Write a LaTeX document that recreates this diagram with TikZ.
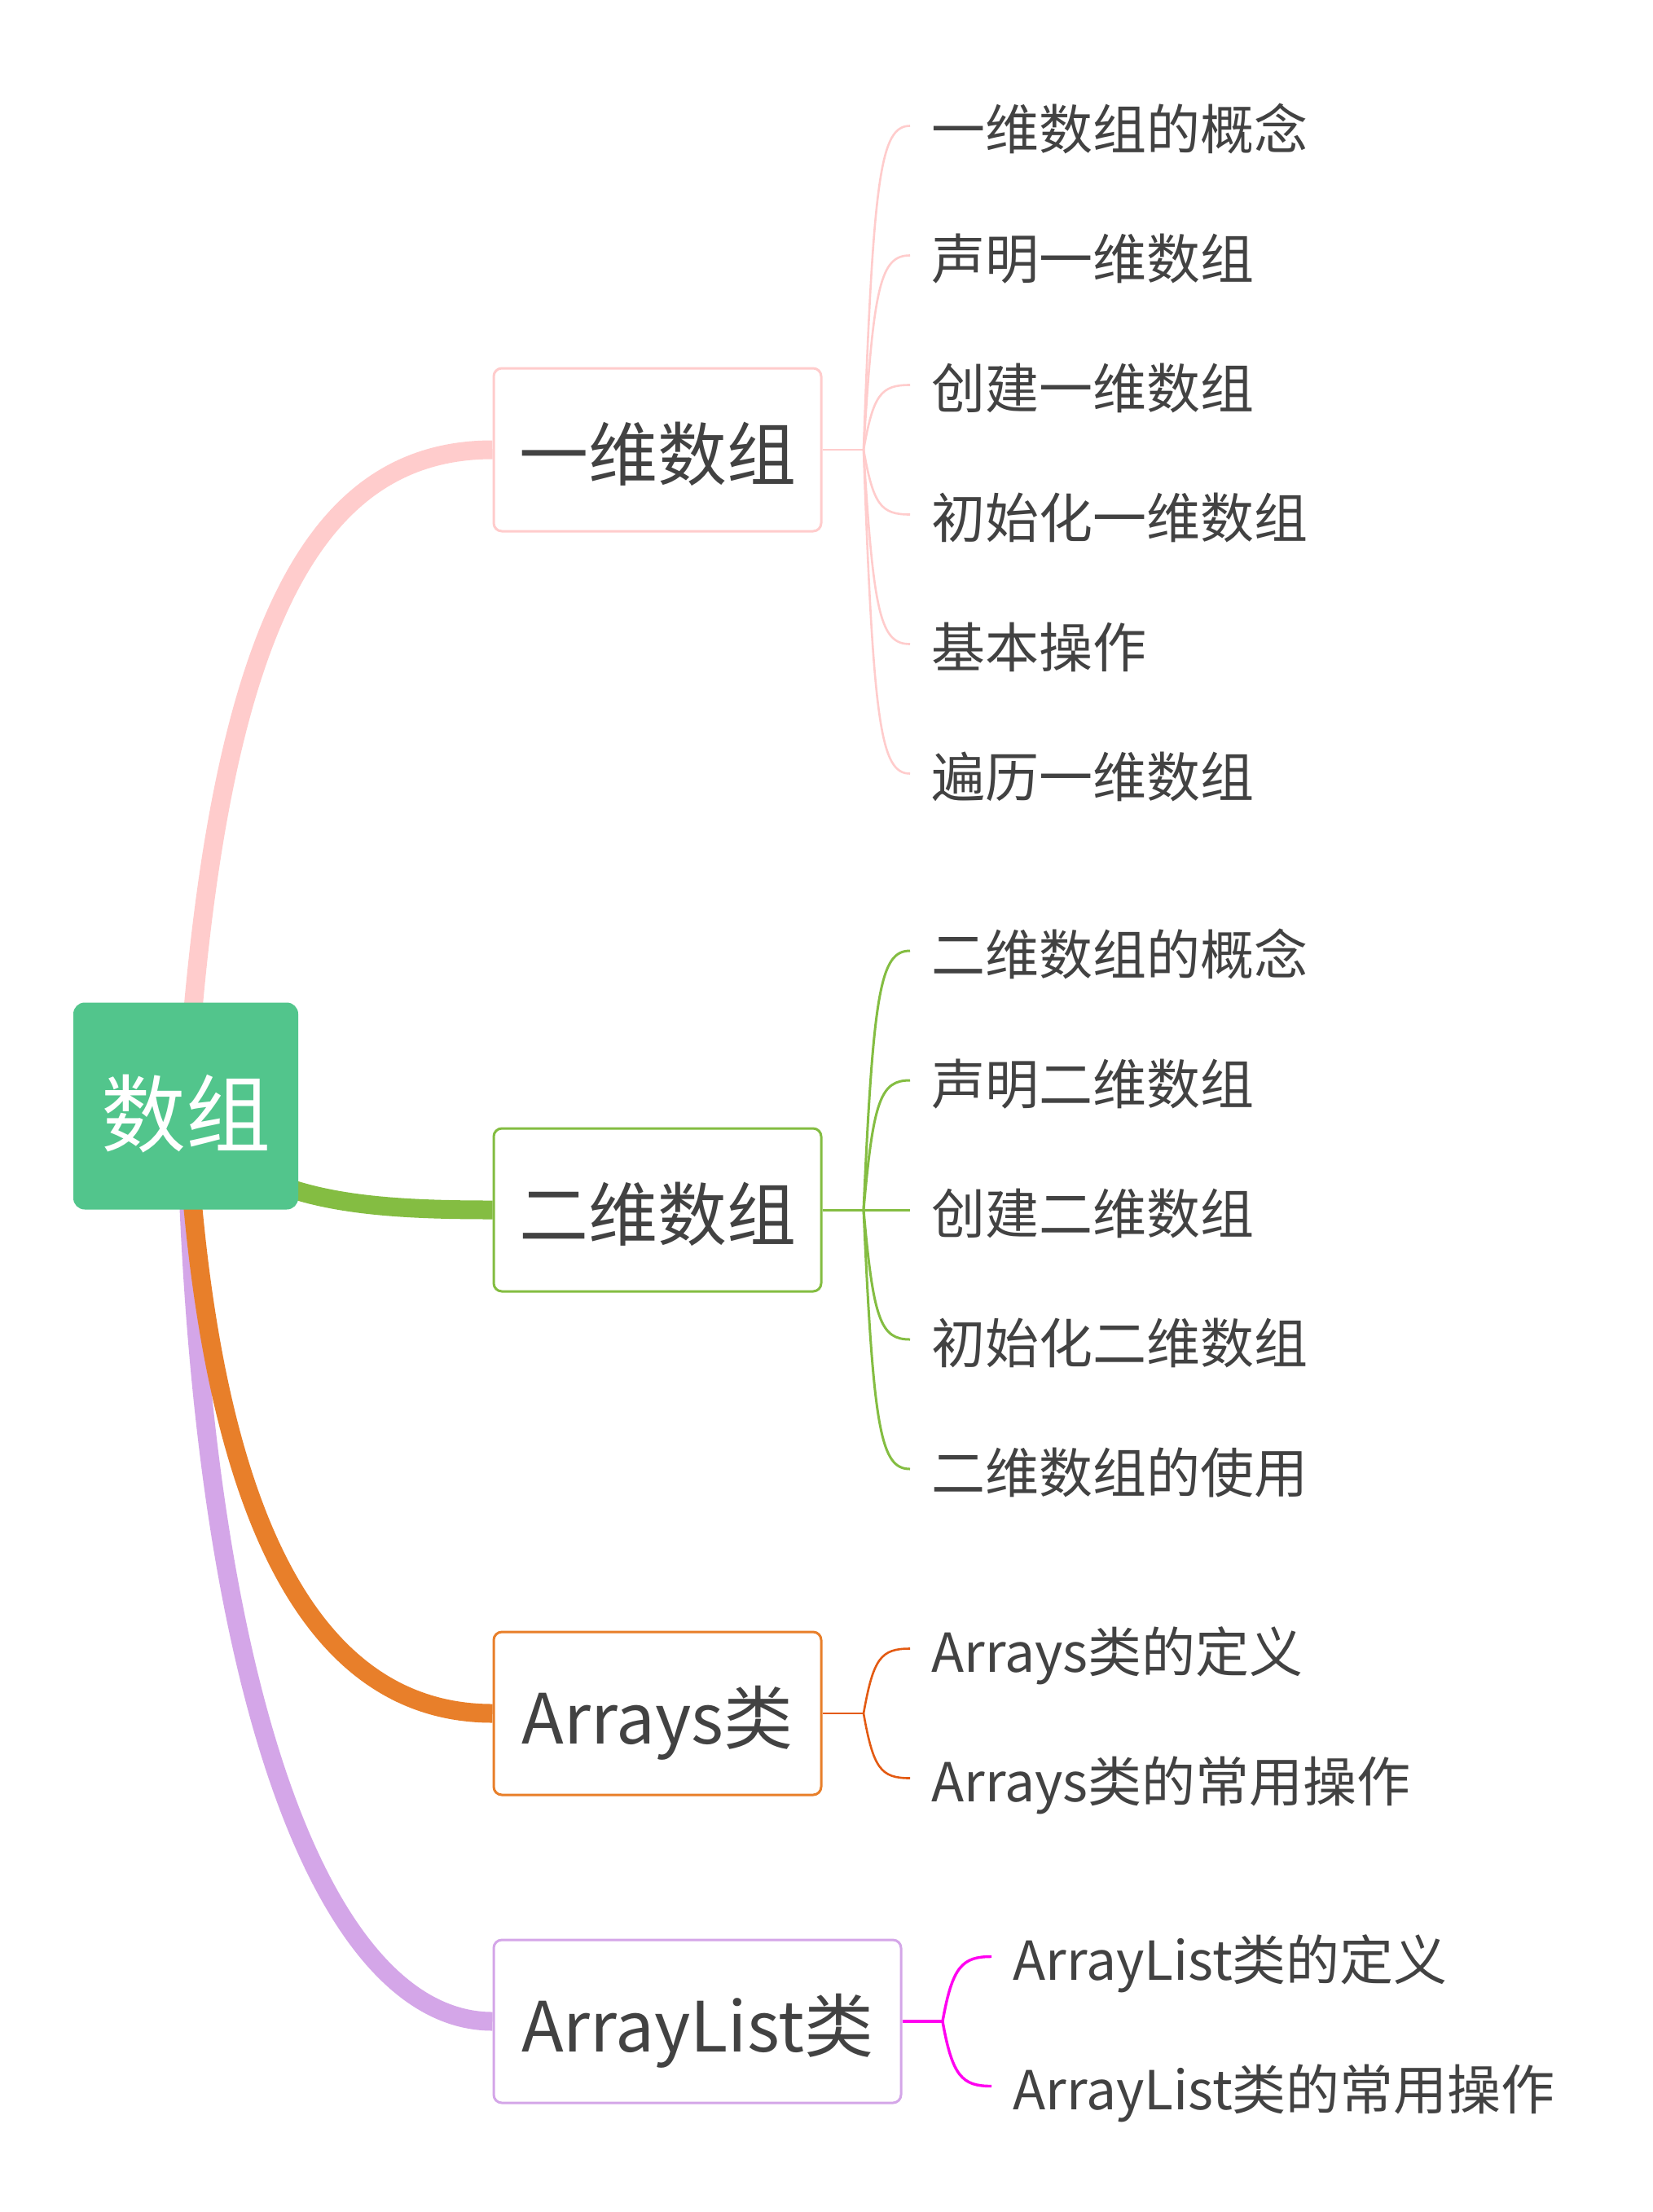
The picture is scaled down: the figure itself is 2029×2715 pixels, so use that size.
\documentclass[tikz,border=0pt]{standalone}
\usepackage{fontspec}
\setmainfont{Noto Sans CJK SC}
\usetikzlibrary{backgrounds}
\definecolor{rootgreen}{HTML}{52C58C}
\definecolor{pinkc}{HTML}{FFCCCC}
\definecolor{greenc}{HTML}{84BD42}
\definecolor{orangec}{HTML}{E87F2A}
\definecolor{orangeleaf}{HTML}{E35A12}
\definecolor{purplec}{HTML}{D4A6E8}
\definecolor{magentac}{HTML}{FF00F0}
\definecolor{textgrey}{HTML}{424242}
\begin{document}
\begin{tikzpicture}[x=0.5pt,y=-0.5pt,
  rootbox/.style={rectangle, rounded corners=7pt, fill=rootgreen, text=white,
    font=\fontsize{52}{52}\selectfont, text height=53pt, text depth=3.6pt,
    minimum width=138pt, minimum height=127pt, inner sep=0pt},
  branchbox/.style={rectangle, rounded corners=5pt, draw, line width=1.5pt, fill=white, text=textgrey,
    font=\fontsize{42.5}{42.5}\selectfont, text height=40.4pt, text depth=3pt,
    minimum height=100pt, inner sep=0pt},
  leaf/.style={anchor=west, inner xsep=13pt, inner ysep=0pt, text=textgrey,
    font=\fontsize{33}{33}\selectfont, text height=31.4pt, text depth=2.3pt},
  mainline/.style={line width=11.5pt},
  leafline/.style={line width=1.3pt}
]
\useasboundingbox (0,0) rectangle (2029,2715);

% root and branches
\node[rootbox] (root) at (228,1357.5) {数组};
\node[branchbox, draw=pinkc, minimum width=201pt] (b1) at (807,552) {一维数组};
\node[branchbox, draw=greenc, minimum width=201pt] (b2) at (807,1485) {二维数组};
\node[branchbox, draw=orangec, minimum width=201pt] (b3) at (807,2103) {Arrays类};
\node[branchbox, draw=purplec, minimum width=250pt] (b4) at (856,2481) {ArrayList类};

% fork points
\coordinate (f1) at (1060,552);
\coordinate (f2) at (1060,1485);
\coordinate (f3) at (1060,2103);
\coordinate (f4) at (1157,2481);

% leaves
\node[leaf] (l11) at (1117,154.5) {一维数组的概念};
\node[leaf] (l12) at (1117,313.5) {声明一维数组};
\node[leaf] (l13) at (1117,472.5) {创建一维数组};
\node[leaf] (l14) at (1117,631.5) {初始化一维数组};
\node[leaf] (l15) at (1117,790.5) {基本操作};
\node[leaf] (l16) at (1117,949.5) {遍历一维数组};

\node[leaf] (l21) at (1117,1167) {二维数组的概念};
\node[leaf] (l22) at (1117,1326) {声明二维数组};
\node[leaf] (l23) at (1117,1485) {创建二维数组};
\node[leaf] (l24) at (1117,1644) {初始化二维数组};
\node[leaf] (l25) at (1117,1803) {二维数组的使用};

\node[leaf] (l31) at (1117,2023.5) {Arrays类的定义};
\node[leaf] (l32) at (1117,2182.5) {Arrays类的常用操作};

\node[leaf] (l41) at (1217,2401.5) {ArrayList类的定义};
\node[leaf] (l42) at (1217,2560.5) {ArrayList类的常用操作};

\begin{pgfonlayer}{background}
  \fill[white] (0,0) rectangle (2029,2715);
  % main connectors
  \draw[mainline, pinkc] (root.center) .. controls (264,779) and (381,552) .. (b1.west);
  \draw[mainline, greenc] (root.center) .. controls (290,1472) and (430,1485) .. (b2.west);
  \draw[mainline, purplec] (root.center) .. controls (242,2077) and (398,2481) .. (b4.west);
  \draw[mainline, orangec] (root.center) .. controls (251,1818) and (364,2103) .. (b3.west);
\end{pgfonlayer}

% leaf connectors
\draw[leafline, pinkc] (b1.east) -- (f1);
\foreach \n/\y in {l11/154.5, l12/313.5, l13/472.5, l14/631.5, l15/790.5, l16/949.5}
  \draw[leafline, pinkc] (f1) .. controls +(12,{0.85*(\y-552)}) and +(-36,0) .. (\n.west);

\draw[leafline, greenc, line width=1.5pt] (b2.east) -- (f2);
\foreach \n/\y in {l21/1167, l22/1326, l23/1485, l24/1644, l25/1803}
  \draw[leafline, greenc, line width=1.5pt] (f2) .. controls +(12,{0.85*(\y-1485)}) and +(-36,0) .. (\n.west);

\draw[leafline, orangeleaf] (b3.east) -- (f3);
\foreach \n/\y in {l31/2023.5, l32/2182.5}
  \draw[leafline, orangeleaf] (f3) .. controls +(12,{0.85*(\y-2103)}) and +(-36,0) .. (\n.west);

\draw[leafline, magentac, line width=1.7pt] (b4.east) -- (f4);
\foreach \n/\y in {l41/2401.5, l42/2560.5}
  \draw[leafline, magentac, line width=1.7pt] (f4) .. controls +(12,{0.85*(\y-2481)}) and +(-36,0) .. (\n.west);
\end{tikzpicture}
\end{document}
